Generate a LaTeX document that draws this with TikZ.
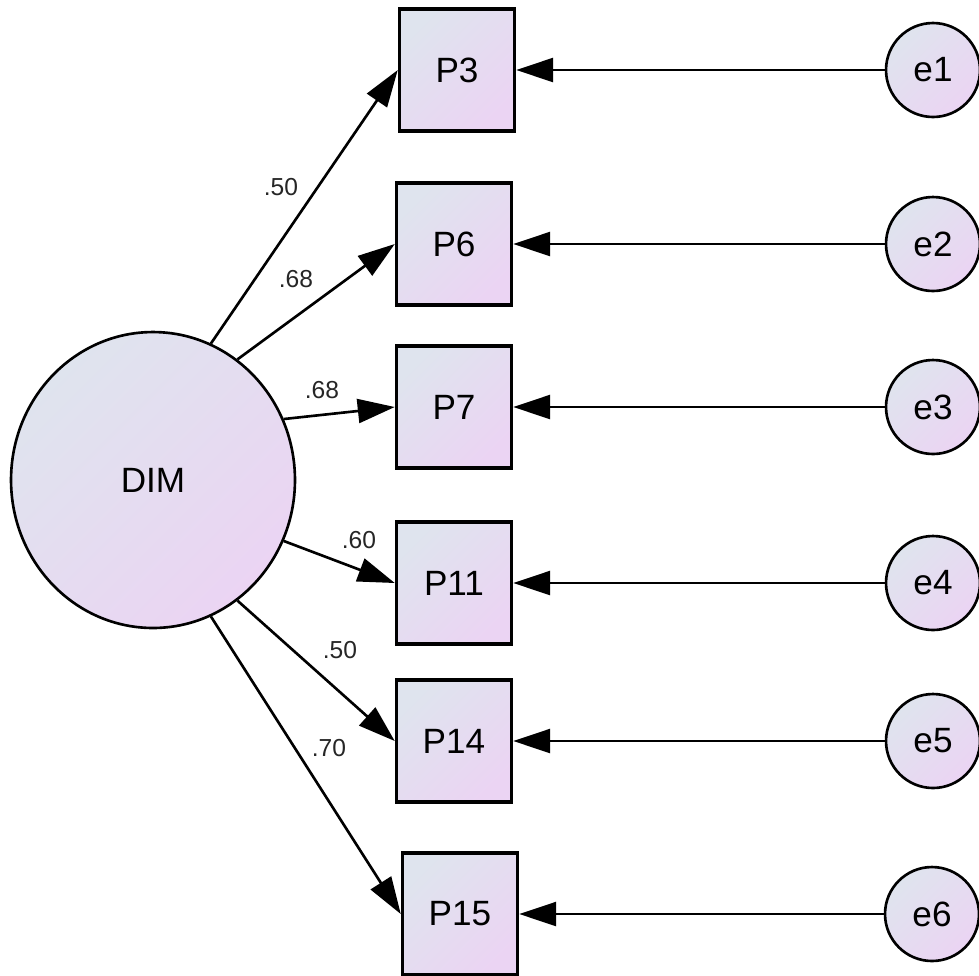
\documentclass[tikz,border=0pt]{standalone}
\usepackage{fontspec}
\setmainfont{Liberation Sans}
\usepackage{tikz}
\usetikzlibrary{arrows.meta,shapes.geometric}
\definecolor{fillA}{RGB}{223,228,238}
\definecolor{fillB}{RGB}{235,212,243}

\begin{document}
\begin{tikzpicture}[x=0.02cm,y=-0.02cm,
  grad/.style={left color=fillA, right color=fillB, shading angle=45},
  factor/.style={ellipse, draw, line width=1.5pt, grad, minimum width=5.68cm,
    minimum height=5.92cm, font=\fontsize{20}{24}\selectfont},
  item/.style={rectangle, draw, line width=2pt, grad, minimum width=2.3cm,
    minimum height=2.44cm, font=\fontsize{20}{24}\selectfont},
  err/.style={circle, draw, line width=1.5pt, grad, minimum size=1.88cm,
    inner sep=0pt, font=\fontsize{20}{24}\selectfont},
  path/.style={line width=1.5pt, -{Triangle[length=0.74cm,width=0.48cm]}},
  coef/.style={font=\fontsize{14}{16}\selectfont, text=black!85}]
  \useasboundingbox (0,0) rectangle (979,975);

  % latent factor
  \node[factor] (DIM) at (153,480) {DIM};

  % items
  \node[item] (P3)  at (457,70)  {P3};
  \node[item] (P6)  at (454,244) {P6};
  \node[item] (P7)  at (454,407) {P7};
  \node[item] (P11) at (454,583) {P11};
  \node[item] (P14) at (454,741) {P14};
  \node[item] (P15) at (460,914) {P15};

  % errors
  \node[err] (e1) at (933,70)  {e1};
  \node[err] (e2) at (933,244) {e2};
  \node[err] (e3) at (933,407) {e3};
  \node[err] (e4) at (933,583) {e4};
  \node[err] (e5) at (933,741) {e5};
  \node[err] (e6) at (932,914) {e6};

  % loadings
  \draw[path] (DIM.67)  -- (P3.west);
  \draw[path] (DIM.55)  -- (P6.west);
  \draw[path] (DIM.25)  -- (P7.west);
  \draw[path] (DIM.-25) -- (P11.west);
  \draw[path] (DIM.-55) -- (P14.west);
  \draw[path] (DIM.-67) -- (P15.west);

  \node[coef] at (281,187) {.50};
  \node[coef] at (296,279) {.68};
  \node[coef] at (322,390) {.68};
  \node[coef] at (359,540) {.60};
  \node[coef] at (340,650) {.50};
  \node[coef] at (329,748) {.70};

  % error paths
  \foreach \e/\p in {e1/P3,e2/P6,e3/P7,e4/P11,e5/P14,e6/P15}
    \draw[path] (\e) -- (\p);
\end{tikzpicture}
\end{document}
